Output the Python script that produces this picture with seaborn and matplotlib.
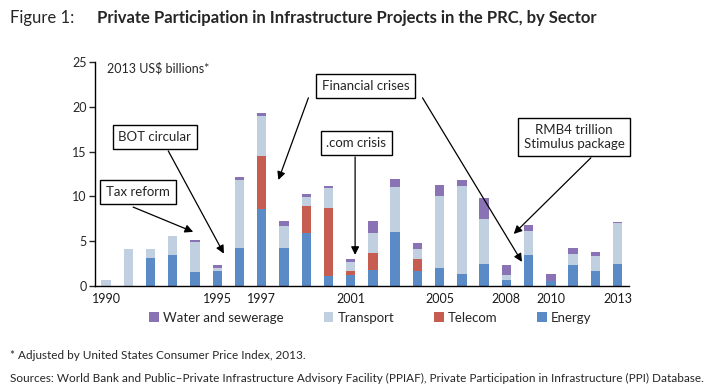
import numpy as np
import pandas as pd
import matplotlib
matplotlib.use("Agg")
import matplotlib.pyplot as plt
import seaborn as sns
from matplotlib.patches import Patch

# values, 2013 US$ billions
years = list(range(1990, 2014))
energy = [0.0, 0.0, 3.1, 3.5, 1.6, 1.7, 4.25, 8.55, 4.25, 5.9, 1.1, 1.2,
          1.8, 6.0, 1.7, 2.0, 1.35, 2.45, 0.65, 3.45, 0.55, 2.35, 1.7, 2.45]
telecom = [0.0, 0.0, 0.0, 0.0, 0.0, 0.0, 0.0, 5.95, 0.0, 3.0, 7.6, 0.5,
           1.85, 0.0, 1.35, 0.0, 0.0, 0.0, 0.0, 0.0, 0.0, 0.0, 0.0, 0.0]
transport = [0.6, 4.1, 1.0, 2.1, 3.35, 0.3, 7.6, 4.45, 2.45, 1.0, 2.25, 0.95,
             2.2, 5.0, 1.1, 8.05, 9.8, 5.0, 0.55, 2.7, 0.0, 1.2, 1.65, 4.6]
water = [0.0, 0.0, 0.0, 0.0, 0.2, 0.35, 0.35, 0.4, 0.55, 0.35, 0.2, 0.35,
         1.35, 0.9, 0.65, 1.2, 0.65, 2.35, 1.1, 0.65, 0.8, 0.65, 0.45, 0.1]
labeled_years = [1990, 1995, 1997, 2001, 2005, 2008, 2010, 2013]

colors = {"Water and sewerage": "#8a73b5", "Transport": "#c1d0e1",
          "Telecom": "#c65d50", "Energy": "#5b8bc6"}

df = pd.DataFrame({"year": [str(y) for y in years], "Energy": energy,
                   "Telecom": telecom, "Transport": transport,
                   "Water and sewerage": water})

sns.set_style("white")
plt.rcParams["font.family"] = ["Lato", "DejaVu Sans"]

fig = plt.figure(figsize=(7.08, 3.9), dpi=100)
ax = fig.add_axes([0.134, 0.267, 0.754, 0.574])

# stacked bars: draw cumulative totals from the top layer down
order = ["Energy", "Telecom", "Transport", "Water and sewerage"]
cum = df[order].cumsum(axis=1)
for name in reversed(order):
    sns.barplot(x=df["year"], y=cum[name], color=colors[name], width=0.42,
                saturation=1, ax=ax, linewidth=0)

ax.set_xlim(-0.5, len(years) - 0.5)
ax.set_ylim(0, 25)
ax.set_yticks([0, 5, 10, 15, 20, 25])
ax.set_xlabel("")
ax.set_ylabel("")
pos = [years.index(y) for y in labeled_years]
ax.set_xticks(pos)
ax.set_xticklabels([str(y) for y in labeled_years])
ax.set_xticks(np.arange(-0.5, len(years), 1.0), minor=True)
ax.tick_params(axis="x", which="major", length=0, pad=5, labelsize=9, colors="#1a1a1a")
ax.tick_params(axis="x", which="minor", length=4, width=1, color="black", direction="out")
ax.tick_params(axis="y", length=4, width=1, direction="out", labelsize=9, pad=2, left=True)
for s in ["top", "right"]:
    ax.spines[s].set_visible(False)
for s in ["left", "bottom"]:
    ax.spines[s].set_color("black")
    ax.spines[s].set_linewidth(1)

ax.text(0.022, 0.973, "2013 US$ billions*", transform=ax.transAxes,
        fontsize=9, va="center", ha="left")

# annotations
box = dict(boxstyle="square,pad=0.45", fc="white", ec="black", lw=1)
arrow = dict(arrowstyle="-|>", color="black", lw=0.9, mutation_scale=12,
             shrinkA=0, shrinkB=0)

ax.text(1.44, 10.5, "Tax reform", ha="center", va="center", fontsize=9.5, bbox=box)
ax.annotate("", xy=(3.92, 6.03), xytext=(1.22, 8.8), arrowprops=arrow)

ax.text(2.2, 16.6, "BOT circular", ha="center", va="center", fontsize=9.5, bbox=box)
ax.annotate("", xy=(5.3, 3.6), xytext=(2.8, 15.07), arrowprops=arrow)

ax.text(11.67, 22.3, "Financial crises", ha="center", va="center", fontsize=9.5, bbox=box, zorder=5)
ax.annotate("", xy=(7.75, 11.83), xytext=(9.1, 21.0), arrowprops=arrow)
ax.annotate("", xy=(18.7, 2.68), xytext=(14.23, 21.0), arrowprops=arrow)

ax.text(11.26, 15.96, ".com crisis", ha="center", va="center", fontsize=9.5, bbox=box)
ax.annotate("", xy=(11.2, 3.46), xytext=(11.2, 14.4), arrowprops=arrow)

ax.text(21.04, 16.63, "RMB4 trillion\nStimulus package", ha="center", va="center",
        fontsize=9.5, bbox=box, linespacing=1.15)
ax.annotate("", xy=(18.33, 5.8), xytext=(21.8, 14.3), arrowprops=arrow)

# legend
handles = [Patch(facecolor=colors[n], edgecolor="none", label=n)
           for n in ["Water and sewerage", "Transport", "Telecom", "Energy"]]
fig.legend(handles=handles, loc="center", bbox_to_anchor=(0.523, 0.185), ncol=4,
           frameon=False, fontsize=9.5, handlelength=0.75, handleheight=0.75,
           handletextpad=0.3, columnspacing=3.0)

# title and notes
fig.text(0.014, 0.953, "Figure 1:", fontsize=12, va="center", ha="left")
fig.text(0.137, 0.953, "Private Participation in Infrastructure Projects in the PRC, by Sector",
         fontsize=12, fontweight="bold", va="center", ha="left")
fig.text(0.014, 0.088, "* Adjusted by United States Consumer Price Index, 2013.",
         fontsize=8.5, va="center", ha="left")
fig.text(0.014, 0.03, "Sources: World Bank and Public\u2013Private Infrastructure Advisory Facility (PPIAF), "
         "Private Participation in Infrastructure (PPI) Database.",
         fontsize=8.5, va="center", ha="left")

fig.savefig("out.png", dpi=100)
